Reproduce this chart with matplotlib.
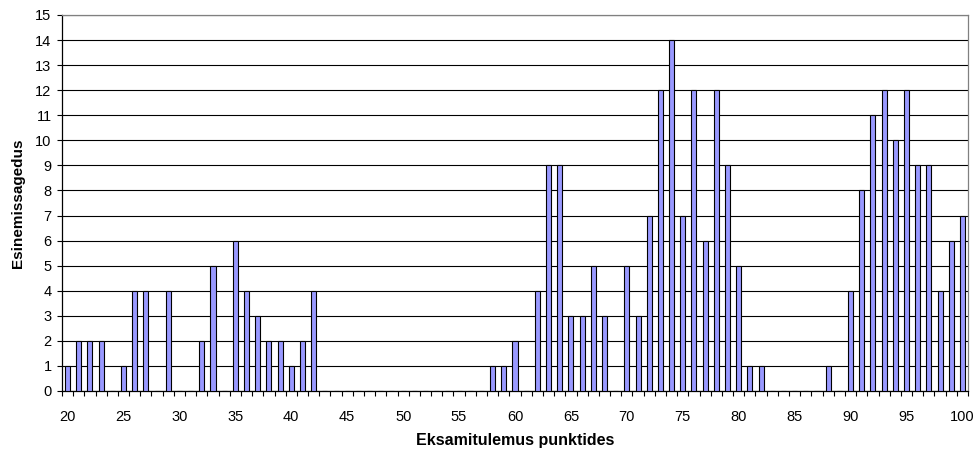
import matplotlib
matplotlib.use("Agg")
import matplotlib.pyplot as plt
from matplotlib.ticker import FixedLocator, NullFormatter

plt.rcParams['font.family'] = ['Liberation Sans', 'DejaVu Sans']

# Exam scores (points) and how often each occurred
scores = list(range(20, 101))
counts = [
    1, 2, 2, 2, 0, 1, 4, 4, 0, 4,      # 20-29
    0, 0, 2, 5, 0, 6, 4, 3, 2, 2,      # 30-39
    1, 2, 4, 0, 0, 0, 0, 0, 0, 0,      # 40-49
    0, 0, 0, 0, 0, 0, 0, 0, 1, 1,      # 50-59
    2, 0, 4, 9, 9, 3, 3, 5, 3, 0,      # 60-69
    5, 3, 7, 12, 14, 7, 12, 6, 12, 9,  # 70-79
    5, 1, 1, 0, 0, 0, 0, 0, 1, 0,      # 80-89
    4, 8, 11, 12, 10, 12, 9, 9, 4, 6,  # 90-99
    7,                                 # 100
]
label_every = 5
y_max = 15

W, H = 976, 450
fig = plt.figure(figsize=(W / 100, H / 100), dpi=100)
left, right, top, bottom = 62, 968, 15, 391
ax = fig.add_axes([left / W, (H - bottom) / H, (right - left) / W, (bottom - top) / H])

pos = list(range(len(scores)))
ax.bar(pos, counts, width=0.45, color="#9999FF", edgecolor="black",
       linewidth=0.8, zorder=3)

ax.set_xlim(-0.5, len(scores) - 0.5)
ax.set_ylim(0, y_max)

# Category labels every 5 points, tick marks between categories
major = [i for i, s in enumerate(scores) if s % label_every == 0]
ax.set_xticks(major)
ax.set_xticklabels([str(scores[i]) for i in major], fontsize=10.5)
ax.tick_params(axis="x", which="major", length=0, pad=13.5)
ax.xaxis.set_minor_locator(FixedLocator([p - 0.5 for p in range(len(scores) + 1)]))
ax.xaxis.set_minor_formatter(NullFormatter())
ax.tick_params(axis="x", which="minor", length=3.5, width=0.8, direction="out")

ax.set_yticks(range(0, y_max + 1))
ax.tick_params(axis="y", length=3.5, width=0.8, direction="out", labelsize=10.5, pad=4)

ax.yaxis.grid(True, color="black", linewidth=0.8, zorder=0)
ax.set_axisbelow(True)

for side in ("left", "bottom"):
    ax.spines[side].set_color("black")
    ax.spines[side].set_linewidth(0.9)
for side in ("top", "right"):
    ax.spines[side].set_color("#808080")
    ax.spines[side].set_linewidth(0.9)

ax.set_xlabel("Eksamitulemus punktides", fontsize=11.5, fontweight="bold", labelpad=6.5)
ax.set_ylabel("Esinemissagedus", fontsize=11, fontweight="bold", labelpad=7)

fig.savefig("out.png", dpi=100)
